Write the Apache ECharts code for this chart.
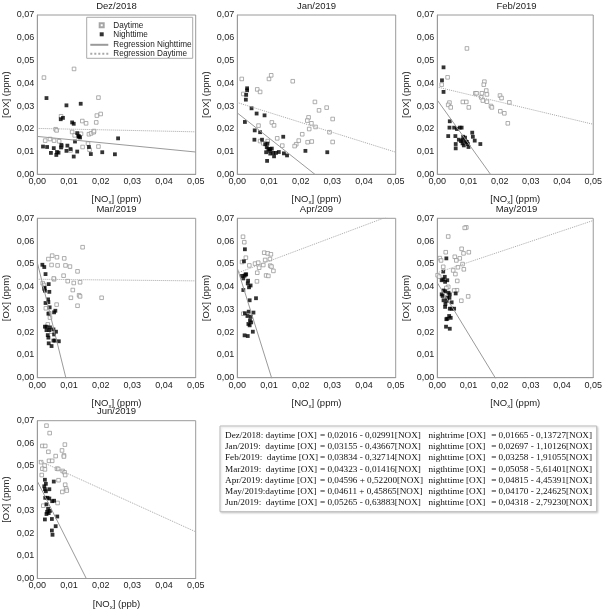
<!DOCTYPE html>
<html>
<head>
<meta charset="utf-8">
<script src="https://cdn.jsdelivr.net/npm/echarts@6/dist/echarts.min.js"></script>
<style>
html,body{margin:0;padding:0;background:#fff;}
#chart{width:605px;height:611px;}
</style>
</head>
<body>
<div id="chart"></div>
<script>
// ---------- DATA ----------
const panelTitles = ['Dez/2018', 'Jan/2019', 'Feb/2019', 'Mar/2019', 'Apr/209', 'May/2019', 'Jun/2019'];
const xUnits = ['ppm', 'ppm', 'ppm', 'ppm', 'ppm', 'ppm', 'ppb'];
const xTicks = [0, 0.01, 0.02, 0.03, 0.04, 0.05];
const yTicks = [0, 0.01, 0.02, 0.03, 0.04, 0.05, 0.06, 0.07];

// regression coefficients [OX] = intercept + slope*[NOX]
const dayIntercept = [0.02016, 0.03155, 0.03834, 0.04323, 0.04596, 0.04611, 0.05265];
const daySlope = [-0.02991, -0.43667, -0.32714, -0.01416, 0.52200, 0.45865, -0.63883];
const nightIntercept = [0.01665, 0.02697, 0.03258, 0.05058, 0.04815, 0.04170, 0.04318];
const nightSlope = [-0.13727, -1.10126, -1.91055, -5.61401, -4.45391, -2.24625, -2.79230];

const eqMonthLabels = ['Dez/2018: daytime [OX]', 'Jan/2019:  daytime [OX]', 'Feb/2019:  daytime [OX]', 'Mar2019:  daytime [OX]', 'Apr/2019: daytime [OX]', 'May/2019:daytime [OX]', 'Jun/2019:  daytime [OX]'];
const eqNightLabels = ['nightrime [OX]', 'nighttime [OX]', 'nighttime [OX]', 'nigthtime [OX]', 'nighttime [OX]', 'nigthtime [OX]', 'nighttime [OX]'];

const dezDay = [[0.0021,0.0425],[0.0116,0.0463],[0.0193,0.0337],[0.0200,0.0265],[0.0188,0.0258],[0.0186,0.0228],[0.0142,0.0234],[0.0154,0.0224],[0.0075,0.0255],[0.0058,0.0198],[0.0061,0.0193],[0.0110,0.0186],[0.0138,0.0178],[0.0163,0.0176],[0.0170,0.0180],[0.0178,0.0185],[0.0179,0.0190],[0.0118,0.0171],[0.0040,0.0155],[0.0053,0.0148],[0.0069,0.0145],[0.0025,0.0148],[0.0143,0.0120],[0.0160,0.0135],[0.0165,0.0108],[0.0193,0.0122],[0.0077,0.0123],[0.0105,0.0105]];
const dezNight = [[0.0029,0.0335],[0.0092,0.0303],[0.0137,0.0310],[0.0074,0.0242],[0.0081,0.0248],[0.0110,0.0228],[0.0115,0.0222],[0.0126,0.0181],[0.0131,0.0168],[0.0135,0.0162],[0.0130,0.0165],[0.0119,0.0144],[0.0018,0.0122],[0.0031,0.0120],[0.0043,0.0094],[0.0052,0.0115],[0.0060,0.0085],[0.0062,0.0098],[0.0067,0.0095],[0.0075,0.0118],[0.0076,0.0129],[0.0092,0.0103],[0.0095,0.0126],[0.0105,0.0111],[0.0115,0.0078],[0.0126,0.0100],[0.0163,0.0120],[0.0169,0.0089],[0.0205,0.0097],[0.0245,0.0088],[0.0255,0.0158]];

const janDay = [[0.0014,0.0419],[0.0019,0.0353],[0.0100,0.0419],[0.0107,0.0435],[0.0063,0.0373],[0.0072,0.0362],[0.0175,0.0409],[0.0245,0.0318],[0.0258,0.0281],[0.0282,0.0293],[0.0225,0.0250],[0.0234,0.0224],[0.0221,0.0236],[0.0247,0.0208],[0.0227,0.0199],[0.0301,0.0243],[0.0291,0.0185],[0.0301,0.0142],[0.0205,0.0176],[0.0194,0.0148],[0.0186,0.0132],[0.0181,0.0124],[0.0222,0.0141],[0.0235,0.0144],[0.0109,0.0228],[0.0116,0.0215],[0.0067,0.0214],[0.0072,0.0146],[0.0126,0.0158],[0.0142,0.0126],[0.0096,0.0146],[0.0082,0.0136]];
const janNight = [[0.0031,0.0378],[0.0031,0.0369],[0.0028,0.0349],[0.0027,0.0328],[0.0045,0.0290],[0.0061,0.0267],[0.0086,0.0259],[0.0024,0.0230],[0.0055,0.0193],[0.0072,0.0185],[0.0054,0.0152],[0.0078,0.0152],[0.0145,0.0165],[0.0088,0.0132],[0.0095,0.0135],[0.0093,0.0119],[0.0098,0.0111],[0.0102,0.0104],[0.0109,0.0113],[0.0091,0.0097],[0.0104,0.0091],[0.0113,0.0094],[0.0122,0.0094],[0.0131,0.0098],[0.0116,0.0079],[0.0094,0.0059],[0.0147,0.0092],[0.0157,0.0083],[0.0215,0.0103],[0.0284,0.0097],[0.0104,0.0111]];

const febDay = [[0.0095,0.0553],[0.0033,0.0426],[0.0014,0.0394],[0.0039,0.0315],[0.0035,0.0305],[0.0043,0.0294],[0.0082,0.0318],[0.0093,0.0318],[0.0101,0.0294],[0.0122,0.0356],[0.0126,0.0356],[0.0143,0.0356],[0.0141,0.0338],[0.0146,0.0324],[0.0151,0.0407],[0.0149,0.0394],[0.0157,0.0368],[0.0159,0.0351],[0.0159,0.0319],[0.0172,0.0300],[0.0175,0.0294],[0.0201,0.0346],[0.0206,0.0335],[0.0231,0.0316],[0.0202,0.0277],[0.0215,0.0268],[0.0226,0.0224]];
const febNight = [[0.0020,0.0470],[0.0015,0.0413],[0.0020,0.0362],[0.0040,0.0233],[0.0039,0.0205],[0.0035,0.0168],[0.0054,0.0205],[0.0063,0.0199],[0.0072,0.0205],[0.0078,0.0205],[0.0058,0.0168],[0.0069,0.0152],[0.0076,0.0146],[0.0083,0.0165],[0.0089,0.0161],[0.0081,0.0136],[0.0085,0.0127],[0.0092,0.0144],[0.0098,0.0133],[0.0100,0.0120],[0.0059,0.0133],[0.0059,0.0114],[0.0112,0.0183],[0.0114,0.0165],[0.0120,0.0148],[0.0138,0.0133],[0.0082,0.0151],[0.0095,0.0142]];

const marDay = [[0.0143,0.0573],[0.0047,0.0536],[0.0062,0.0529],[0.0035,0.0521],[0.0045,0.0495],[0.0064,0.0493],[0.0085,0.0524],[0.0089,0.0493],[0.0103,0.0488],[0.0127,0.0467],[0.0083,0.0448],[0.0096,0.0424],[0.0053,0.0432],[0.0052,0.0436],[0.0115,0.0416],[0.0135,0.0419],[0.0017,0.0415],[0.0021,0.0407],[0.0112,0.0385],[0.0106,0.0351],[0.0132,0.0362],[0.0135,0.0357],[0.0127,0.0316],[0.0203,0.0351],[0.0061,0.0321],[0.0027,0.0305],[0.0038,0.0283],[0.0040,0.0264],[0.0033,0.0234],[0.0045,0.0202]];
const marNight = [[0.0016,0.0496],[0.0022,0.0486],[0.0026,0.0455],[0.0036,0.0411],[0.0022,0.0390],[0.0024,0.0382],[0.0023,0.0395],[0.0034,0.0344],[0.0026,0.0328],[0.0035,0.0332],[0.0039,0.0309],[0.0053,0.0287],[0.0057,0.0294],[0.0035,0.0281],[0.0024,0.0224],[0.0029,0.0224],[0.0040,0.0221],[0.0038,0.0209],[0.0033,0.0187],[0.0035,0.0176],[0.0051,0.0212],[0.0053,0.0190],[0.0051,0.0163],[0.0056,0.0163],[0.0059,0.0202],[0.0068,0.0160],[0.0036,0.0151],[0.0045,0.0139],[0.0029,0.0209],[0.0038,0.0377]];

const aprDay = [[0.0018,0.0619],[0.0022,0.0595],[0.0015,0.0508],[0.0027,0.0527],[0.0038,0.0493],[0.0056,0.0501],[0.0066,0.0505],[0.0069,0.0483],[0.0063,0.0461],[0.0062,0.0423],[0.0082,0.0495],[0.0085,0.0549],[0.0096,0.0546],[0.0106,0.0542],[0.0088,0.0517],[0.0103,0.0521],[0.0091,0.0449],[0.0098,0.0447],[0.0104,0.0492],[0.0108,0.0488],[0.0114,0.0469],[0.0019,0.0281]];
const aprNight = [[0.0024,0.0564],[0.0021,0.0511],[0.0015,0.0447],[0.0019,0.0436],[0.0023,0.0448],[0.0026,0.0453],[0.0028,0.0454],[0.0019,0.0385],[0.0034,0.0426],[0.0033,0.0414],[0.0037,0.0397],[0.0042,0.0405],[0.0039,0.0340],[0.0059,0.0349],[0.0024,0.0283],[0.0032,0.0271],[0.0051,0.0286],[0.0036,0.0290],[0.0043,0.0268],[0.0040,0.0252],[0.0044,0.0243],[0.0035,0.0236],[0.0039,0.0230],[0.0049,0.0202],[0.0023,0.0186],[0.0033,0.0183]];

const mayDay = [[0.0093,0.0660],[0.0088,0.0658],[0.0035,0.0620],[0.0078,0.0566],[0.0101,0.0551],[0.0027,0.0551],[0.0084,0.0546],[0.0072,0.0524],[0.0056,0.0531],[0.0061,0.0515],[0.0008,0.0525],[0.0012,0.0515],[0.0066,0.0485],[0.0081,0.0499],[0.0085,0.0476],[0.0019,0.0487],[0.0051,0.0471],[0.0058,0.0455],[0.0001,0.0450],[0.0006,0.0444],[0.0064,0.0425],[0.0035,0.0399],[0.0063,0.0384],[0.0054,0.0383],[0.0077,0.0338],[0.0099,0.0357],[0.0029,0.0394]];
const mayNight = [[0.0029,0.0524],[0.0019,0.0466],[0.0024,0.0443],[0.0032,0.0428],[0.0014,0.0428],[0.0019,0.0432],[0.0025,0.0421],[0.0020,0.0383],[0.0025,0.0379],[0.0014,0.0366],[0.0017,0.0359],[0.0036,0.0373],[0.0040,0.0366],[0.0059,0.0370],[0.0032,0.0352],[0.0039,0.0351],[0.0020,0.0340],[0.0031,0.0338],[0.0026,0.0324],[0.0025,0.0311],[0.0040,0.0303],[0.0046,0.0331],[0.0046,0.0303],[0.0054,0.0303],[0.0038,0.0271],[0.0043,0.0263],[0.0029,0.0257],[0.0032,0.0259],[0.0028,0.0224],[0.0040,0.0215]];

const junDay = [[0.0029,0.0678],[0.0039,0.0645],[0.0016,0.0588],[0.0025,0.0588],[0.0035,0.0562],[0.0087,0.0594],[0.0078,0.0568],[0.0084,0.0546],[0.0084,0.0541],[0.0058,0.0543],[0.0037,0.0522],[0.0047,0.0522],[0.0012,0.0516],[0.0023,0.0501],[0.0016,0.0487],[0.0024,0.0484],[0.0014,0.0459],[0.0062,0.0487],[0.0066,0.0486],[0.0080,0.0477],[0.0086,0.0471],[0.0088,0.0459],[0.0067,0.0436],[0.0088,0.0416],[0.0091,0.0399],[0.0093,0.0390],[0.0079,0.0384],[0.0019,0.0323],[0.0064,0.0335]];
const junNight = [[0.0024,0.0438],[0.0027,0.0420],[0.0022,0.0409],[0.0024,0.0396],[0.0038,0.0396],[0.0027,0.0387],[0.0052,0.0430],[0.0025,0.0358],[0.0032,0.0358],[0.0038,0.0355],[0.0047,0.0343],[0.0053,0.0345],[0.0029,0.0329],[0.0034,0.0309],[0.0040,0.0300],[0.0031,0.0296],[0.0036,0.0290],[0.0029,0.0286],[0.0063,0.0275],[0.0046,0.0264],[0.0024,0.0262],[0.0058,0.0232],[0.0046,0.0213],[0.0048,0.0194]];

const dayData = [dezDay, janDay, febDay, marDay, aprDay, mayDay, junDay];
const nightData = [dezNight, janNight, febNight, marNight, aprNight, mayNight, junNight];

// ---------- LAYOUT ----------
const gridBoxes = [
  [37.3, 15, 158.4, 159.3], [237.3, 15, 158.4, 159.3], [437.3, 15, 158.4, 159.3],
  [37.3, 218.3, 158.4, 159.4], [237.3, 218.3, 158.4, 159.4], [437.3, 218.3, 158.4, 159.4],
  [37.3, 420.7, 158.4, 161]
];
const SANS = '"Liberation Sans", Arial, sans-serif';
const SERIF = '"Liberation Serif", "Times New Roman", serif';
const FRAME = '#9a9a9a';
const fmt = v => v.toFixed(2).replace('.', ',');
const fmt5 = v => Math.abs(v).toFixed(5).replace('.', ',');

const grids = [], xAxes = [], yAxes = [], series = [], titles = [];
gridBoxes.forEach((b, i) => {
  grids.push({left: b[0], top: b[1], width: b[2], height: b[3], show: true, borderColor: FRAME, borderWidth: 1, backgroundColor: 'transparent'});
  xAxes.push({
    type: 'value', gridIndex: i, min: xTicks[0], max: xTicks[xTicks.length - 1], interval: xTicks[1] - xTicks[0],
    axisLine: {show: true, onZero: false, lineStyle: {color: FRAME}},
    axisTick: {show: false}, splitLine: {show: false},
    axisLabel: {formatter: fmt, fontSize: 9, color: '#222', fontFamily: SANS, margin: 3, showMaxLabel: true, showMinLabel: true},
    name: '[NO{s|x}] (' + xUnits[i] + ')', nameLocation: 'middle', nameGap: 19.5,
    nameTextStyle: {fontSize: 9.5, color: '#222', fontFamily: SANS, rich: {s: {fontSize: 6, verticalAlign: 'bottom', padding: [6, 0, 0, 0], fontFamily: SANS, color: '#222'}}}
  });
  yAxes.push({
    type: 'value', gridIndex: i, min: yTicks[0], max: yTicks[yTicks.length - 1], interval: yTicks[1] - yTicks[0],
    axisLine: {show: true, onZero: false, lineStyle: {color: FRAME}},
    axisTick: {show: false}, splitLine: {show: false},
    axisLabel: {formatter: fmt, fontSize: 9, color: '#222', fontFamily: SANS, margin: 3, showMaxLabel: true, showMinLabel: true},
    name: '[OX] (ppm)', nameLocation: 'middle', nameGap: 25.5,
    nameTextStyle: {fontSize: 9.5, color: '#222', fontFamily: SANS}
  });
  titles.push({text: panelTitles[i], left: b[0] + b[2] / 2, top: b[1] - 14, textAlign: 'center', padding: 0,
    textStyle: {fontSize: 9.5, fontWeight: 'normal', color: '#222', fontFamily: SANS}});

  series.push({
    name: 'Daytime', type: 'scatter', xAxisIndex: i, yAxisIndex: i, data: dayData[i],
    symbol: 'rect', symbolSize: 3.6, itemStyle: {color: '#fff', borderColor: '#8f8f8f', borderWidth: 0.9}, z: 2
  });
  series.push({
    name: 'Nighttime', type: 'scatter', xAxisIndex: i, yAxisIndex: i, data: nightData[i],
    symbol: 'rect', symbolSize: 3.8, itemStyle: {color: '#000'}, z: 3
  });
  const x0 = xTicks[0], x1 = xTicks[xTicks.length - 1];
  series.push({
    name: 'Regression Nighttime', type: 'line', xAxisIndex: i, yAxisIndex: i, symbol: 'none', showSymbol: false, clip: true, silent: true,
    data: [[x0, nightIntercept[i] + nightSlope[i] * x0], [x1, nightIntercept[i] + nightSlope[i] * x1]],
    lineStyle: {color: '#9a9a9a', width: 1, type: 'solid'}, z: 4
  });
  series.push({
    name: 'Regression Daytime', type: 'line', xAxisIndex: i, yAxisIndex: i, symbol: 'none', showSymbol: false, clip: true, silent: true,
    data: [[x0, dayIntercept[i] + daySlope[i] * x0], [x1, dayIntercept[i] + daySlope[i] * x1]],
    lineStyle: {color: '#a8a8a8', width: 1, type: 'dotted'}, z: 4
  });
});

// equation box texts (built from the coefficient arrays)
const eqTexts = [];
const lineTop = 435.7, lineStep = 11.17;
for (let i = 0; i < 7; i++) {
  const y = lineTop + i * lineStep;
  const dayEq = '= ' + fmt5(dayIntercept[i]) + (daySlope[i] < 0 ? ' - ' : ' + ') + fmt5(daySlope[i]) + '[NOX]';
  const nightEq = '= ' + fmt5(nightIntercept[i]) + (nightSlope[i] < 0 ? ' - ' : ' + ') + fmt5(nightSlope[i]) + '[NOX]';
  const st = {font: '9.2px ' + SERIF, fill: '#111', textVerticalAlign: 'middle'};
  eqTexts.push({type: 'text', x: 225, y: y, style: Object.assign({text: eqMonthLabels[i], textAlign: 'left'}, st)});
  eqTexts.push({type: 'text', x: 320, y: y, style: Object.assign({text: dayEq, textAlign: 'left'}, st)});
  eqTexts.push({type: 'text', x: 428.5, y: y, style: Object.assign({text: eqNightLabels[i], textAlign: 'left'}, st)});
  eqTexts.push({type: 'text', x: 592, y: y, style: Object.assign({text: nightEq, textAlign: 'right'}, st)});
}

const chart = echarts.init(document.getElementById('chart'), null, {renderer: 'canvas'});
chart.setOption({
  animation: false,
  backgroundColor: '#fff',
  title: titles,
  grid: grids,
  xAxis: xAxes,
  yAxis: yAxes,
  legend: [
    {
      data: ['Daytime', 'Nighttime'], orient: 'vertical', left: 98.7, top: 20.8, padding: 0,
      itemWidth: 4, itemHeight: 4, itemGap: 0, selectedMode: false,
      textStyle: {fontSize: 8.2, color: '#222', fontFamily: SANS, lineHeight: 9, padding: [0, 0, 0, 4.6]}
    },
    {
      data: ['Regression Nighttime', 'Regression Daytime'],
      orient: 'vertical', left: 89.3, top: 40.3, padding: 0,
      itemWidth: 18, itemHeight: 1, itemGap: 0, selectedMode: false,
      itemStyle: {color: 'rgba(0,0,0,0)', borderWidth: 0, opacity: 0},
      textStyle: {fontSize: 8.2, color: '#222', fontFamily: SANS, lineHeight: 9}
    }
  ],
  graphic: [
    {type: 'rect', shape: {x: 86.7, y: 17.3, width: 106, height: 41}, style: {fill: 'none', stroke: '#aaa', lineWidth: 1}, z: 10, silent: true},
    {type: 'rect', shape: {x: 220, y: 426, width: 376.7, height: 85.7}, style: {fill: '#fff', stroke: '#bbb', lineWidth: 1, shadowColor: 'rgba(0,0,0,0.15)', shadowBlur: 2, shadowOffsetX: 1, shadowOffsetY: 1}, silent: true},
    {type: 'group', children: eqTexts, silent: true}
  ],
  series: series
});
</script>
</body>
</html>
